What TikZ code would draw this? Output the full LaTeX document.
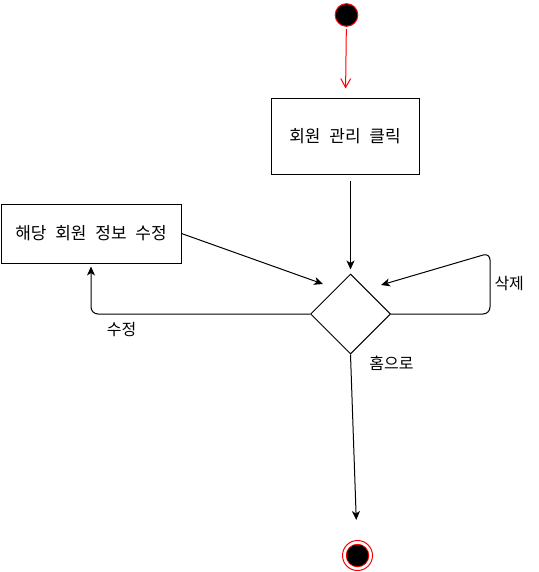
\documentclass[tikz,border=0pt]{standalone}
\usepackage{fontspec}
\setmainfont{Noto Sans CJK KR}[WordSpace=2.3]
\usetikzlibrary{shapes.geometric,arrows.meta}

\begin{document}
\begin{tikzpicture}[x=1pt,y=-1pt,
    box/.style={shape=rectangle,draw=black,line width=1pt,inner sep=0pt,font=\fontsize{17}{20}\selectfont},
    flow/.style={-{Stealth[length=9pt,width=8pt,inset=2.5pt]},line width=1pt},
    lbl/.style={font=\fontsize{16}{18}\selectfont,inner sep=0pt}]
  \useasboundingbox (0,0) rectangle (538,572);

  \node[shape=circle,draw=red,fill=black,line width=1pt,minimum size=22.6pt,inner sep=0pt](start) at (346.5,15) {};
  \node[box,minimum width=148pt,minimum height=75pt](click) at (345,136.5) {회원 관리 클릭};
  \node[box,minimum width=180pt,minimum height=59pt](edit) at (91,233.5) {해당 회원 정보 수정};
  \node[shape=diamond,draw=black,line width=1pt,aspect=1,minimum width=80pt,minimum height=80pt,inner sep=0pt](dec) at (350.5,314) {};
  \node[shape=circle,draw=red,line width=1pt,minimum size=30pt,inner sep=0pt](end) at (357.5,555.5) {};
  \filldraw[draw=red,fill=black,line width=0.8pt] (end) circle (11.3pt);

  \coordinate (dl) at (323,284);
  \coordinate (dr) at (381,285);
  \coordinate (rc) at (490,253);

  \path [-{Straight Barb[length=9pt,width=10pt]},draw=red,line width=1pt,shorten <=2pt,shorten >=10pt] (start) edge (click);
  \path [flow,shorten <=6pt,shorten >=4pt] (click.south -| dec) edge (dec.north);
  \path [flow] (edit.east) edge (dl);
  \draw [flow,rounded corners=7pt,shorten >=3pt] (dec.west) -| node[lbl,pos=0.43,below=8pt] {수정} (edit.south);
  \draw [flow,rounded corners=7pt] (dec.east) -| node[lbl,pos=0.75,right=4pt] {삭제} (rc) -- (dr);
  \path [flow,shorten >=20pt] (dec.south) edge node[lbl,pos=0.05,right=18pt] {홈으로} (end);
\end{tikzpicture}
\end{document}
